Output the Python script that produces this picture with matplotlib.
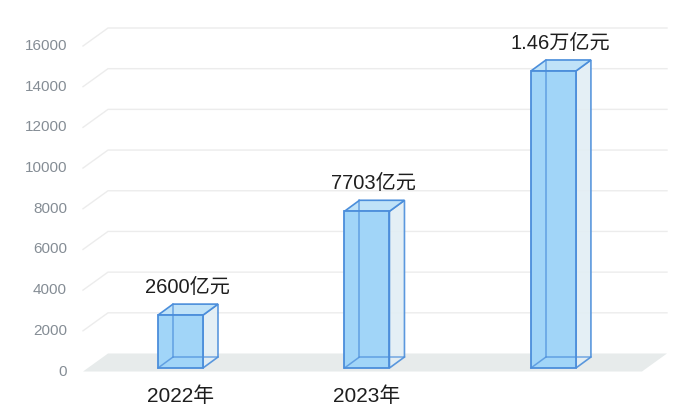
import matplotlib
matplotlib.use("Agg")
import matplotlib.pyplot as plt
from matplotlib.patches import Polygon

plt.rcParams['font.family'] = ['Liberation Sans', 'Noto Sans CJK SC', 'DejaVu Sans']

# ---- data ----
categories = ["2022年", "2023年", ""]
values = [2600, 7703, 14600]
value_labels = ["2600亿元", "7703亿元", "1.46万亿元"]
yticks = [0, 2000, 4000, 6000, 8000, 10000, 12000, 14000, 16000]

# ---- style ----
FRONT = "#a1d5f8"
TOP = "#bfe2f8"
SIDE = "#e2eef4"
EDGE = "#4b8edb"
FLOOR = "#e7ebeb"
GRID = "#ececec"
TICK = "#858d95"

fig = plt.figure(figsize=(7, 4.2), dpi=100)
ax = fig.add_axes([0, 0, 1, 1])
ax.set_xlim(-0.968, 2.786)
ax.set_ylim(-2384, 18261)
ax.axis("off")
fig.canvas.draw()


def px_offset(dx_px, dy_px):
    inv = ax.transData.inverted()
    p0 = ax.transData.transform((0, 0))
    p1 = inv.transform((p0[0] + dx_px, p0[1] + dy_px))
    return p1[0], p1[1]


gdx, gdy = px_offset(25, 18)     # wall / floor depth
bdx, bdy = px_offset(15, 11)     # bar depth
bw = px_offset(45, 0)[0]         # bar width
base = px_offset(0, 3.5)[1]      # bars stand slightly back on the floor
x_left, x_right = px_offset(-97.5, 0)[0], px_offset(461.5, 0)[0]

# floor
ax.add_patch(Polygon([(x_left, 0), (x_right, 0), (x_right + gdx, gdy),
                      (x_left + gdx, gdy)], closed=True, facecolor=FLOOR,
                     edgecolor="none", zorder=1))

# grid lines and y tick labels
for v in yticks:
    if v > 0:
        ax.plot([x_left, x_left + gdx, x_right + gdx], [v, v + gdy, v + gdy],
                color=GRID, lw=1.0, zorder=0.5, solid_joinstyle="miter")
    ax.text(px_offset(-113.5, 0)[0], v, str(v), ha="right", va="center",
            fontsize=11, color=TICK)

# bars
for i, (v, lab) in enumerate(zip(values, value_labels)):
    l, r = i - bw / 2, i + bw / 2
    b, t = base, v + base
    # side face
    ax.add_patch(Polygon([(r, b), (r + bdx, b + bdy), (r + bdx, t + bdy), (r, t)],
                         closed=True, facecolor=SIDE, edgecolor=EDGE,
                         lw=1.2, alpha=0.9, zorder=3))
    # top face
    ax.add_patch(Polygon([(l, t), (l + bdx, t + bdy), (r + bdx, t + bdy), (r, t)],
                         closed=True, facecolor=TOP, edgecolor=EDGE,
                         lw=1.2, zorder=3))
    # front face fill
    ax.add_patch(Polygon([(l, b), (r, b), (r, t), (l, t)], closed=True,
                         facecolor=FRONT, edgecolor="none", zorder=4))
    # hidden back edges seen through the glass
    ax.plot([l + bdx, l + bdx], [b + bdy, t + bdy], color=EDGE, lw=1.1,
            alpha=0.75, zorder=4.5)
    ax.plot([l, l + bdx, r + bdx], [b, b + bdy, b + bdy], color=EDGE, lw=1.1,
            alpha=0.75, zorder=4.5)
    ax.add_patch(Polygon([(l, b), (r, b), (r, t), (l, t)], closed=True,
                         facecolor="none", edgecolor=EDGE, lw=1.3, zorder=5))
    ax.annotate(lab, (i, t), xytext=(5, 13), textcoords="offset points",
                ha="center", va="bottom", fontsize=14.5, color="#1e1e1e")

# category labels
for i, c in enumerate(categories):
    ax.text(i, px_offset(0, -24.5)[1], c, ha="center", va="center",
            fontsize=15, color="#1e1e1e")

fig.savefig("out.png", dpi=100)
